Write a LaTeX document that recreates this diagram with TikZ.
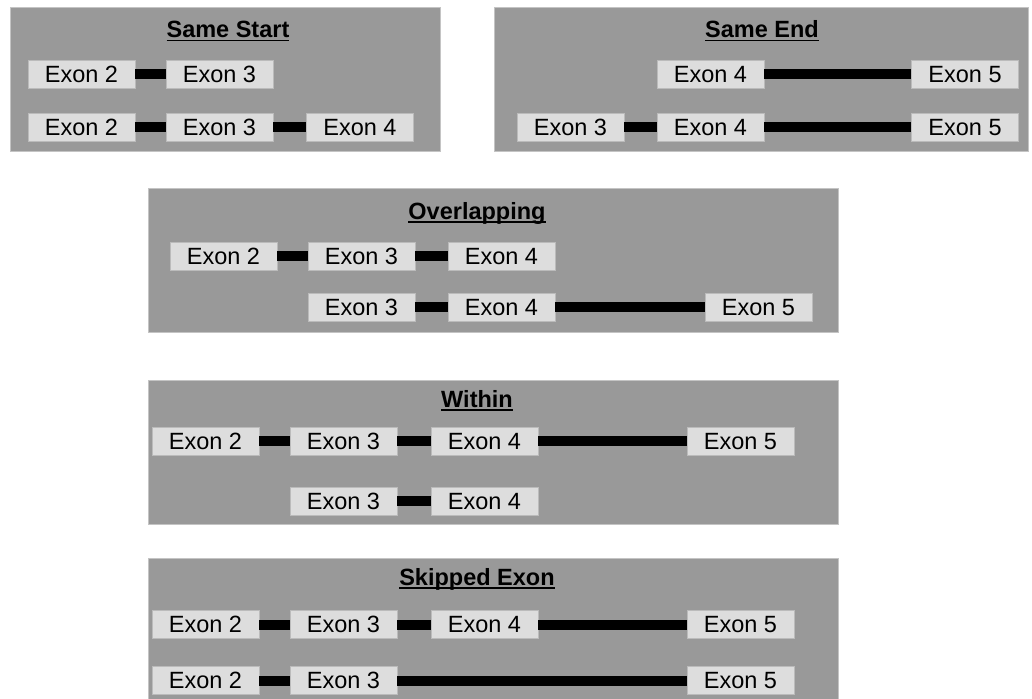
\documentclass[tikz,border=0pt]{standalone}
\usepackage{fontspec}
\setmainfont{Liberation Sans}
\definecolor{panelgray}{HTML}{999999}
\definecolor{panelborder}{HTML}{C4C4C4}
\definecolor{exonfill}{HTML}{DDDDDD}
\definecolor{exonborder}{HTML}{BBBBBB}
\newcommand\myul[1]{\setbox0\hbox{#1}\rlap{\rule[-3.8pt]{\wd0}{1.5pt}}\box0}
\begin{document}
\begin{tikzpicture}[x=1pt,y=-1pt,
  panel/.style={fill=panelgray, draw=panelborder, line width=0.8pt},
  exon/.style={fill=exonfill, draw=exonborder, line width=0.8pt, minimum width=107pt, minimum height=28pt, inner sep=0pt, text height=16.8pt, text depth=0pt, font=\fontsize{23.5}{28}\selectfont},
  title/.style={anchor=base, inner sep=0pt, font=\fontsize{23.5}{28}\selectfont\bfseries},
  intron/.style={line width=10pt, draw=black}]
\useasboundingbox (0,0) rectangle (1032,698);
% panels
\draw[panel] (10,7) rectangle (440,151);
\draw[panel] (494,7) rectangle (1028,151);
\draw[panel] (148,188) rectangle (838,332);
\draw[panel] (148,380) rectangle (838,524);
\draw[panel] (148,558) rectangle (838,701);
% titles
\node[title] (tA) at (228,37.5) {\myul{Same Start}};
\node[title] (tB) at (762,37.5) {\myul{Same End}};
\node[title] (tC) at (477,219) {\myul{Overlapping}};
\node[title] (tD) at (477,407) {\myul{Within}};
\node[title] (tE) at (477,585) {\myul{Skipped Exon}};
% Same Start
\node[exon] (a12) at (81.5,74) {Exon 2};
\node[exon] (a13) at (219.5,74) {Exon 3};
\node[exon] (a22) at (81.5,127) {Exon 2};
\node[exon] (a23) at (219.5,127) {Exon 3};
\node[exon] (a24) at (360,127) {Exon 4};
\draw[intron] (a12) -- (a13);
\draw[intron] (a22) -- (a23);
\draw[intron] (a23) -- (a24);
% Same End
\node[exon] (b14) at (710.5,74) {Exon 4};
\node[exon] (b15) at (965,74) {Exon 5};
\node[exon] (b23) at (570.5,127) {Exon 3};
\node[exon] (b24) at (710.5,127) {Exon 4};
\node[exon] (b25) at (965,127) {Exon 5};
\draw[intron] (b14) -- (b15);
\draw[intron] (b23) -- (b24);
\draw[intron] (b24) -- (b25);
% Overlapping
\node[exon] (c12) at (223.5,256) {Exon 2};
\node[exon] (c13) at (361.5,256) {Exon 3};
\node[exon] (c14) at (501.5,256) {Exon 4};
\node[exon] (c23) at (361.5,307) {Exon 3};
\node[exon] (c24) at (501.5,307) {Exon 4};
\node[exon] (c25) at (758.5,307) {Exon 5};
\draw[intron] (c12) -- (c13);
\draw[intron] (c13) -- (c14);
\draw[intron] (c23) -- (c24);
\draw[intron] (c24) -- (c25);
% Within
\node[exon] (d12) at (205.5,441) {Exon 2};
\node[exon] (d13) at (343.5,441) {Exon 3};
\node[exon] (d14) at (484.5,441) {Exon 4};
\node[exon] (d15) at (740.5,441) {Exon 5};
\node[exon] (d23) at (343.5,501) {Exon 3};
\node[exon] (d24) at (484.5,501) {Exon 4};
\draw[intron] (d12) -- (d13);
\draw[intron] (d13) -- (d14);
\draw[intron] (d14) -- (d15);
\draw[intron] (d23) -- (d24);
% Skipped Exon
\node[exon] (e12) at (205.5,624.5) {Exon 2};
\node[exon] (e13) at (343.5,624.5) {Exon 3};
\node[exon] (e14) at (484.5,624.5) {Exon 4};
\node[exon] (e15) at (740.5,624.5) {Exon 5};
\node[exon] (e22) at (205.5,680.5) {Exon 2};
\node[exon] (e23) at (343.5,680.5) {Exon 3};
\node[exon] (e25) at (740.5,680.5) {Exon 5};
\draw[intron] (e12) -- (e13);
\draw[intron] (e13) -- (e14);
\draw[intron] (e14) -- (e15);
\draw[intron] (e22) -- (e23);
\draw[intron] (e23) -- (e25);
\end{tikzpicture}
\end{document}
